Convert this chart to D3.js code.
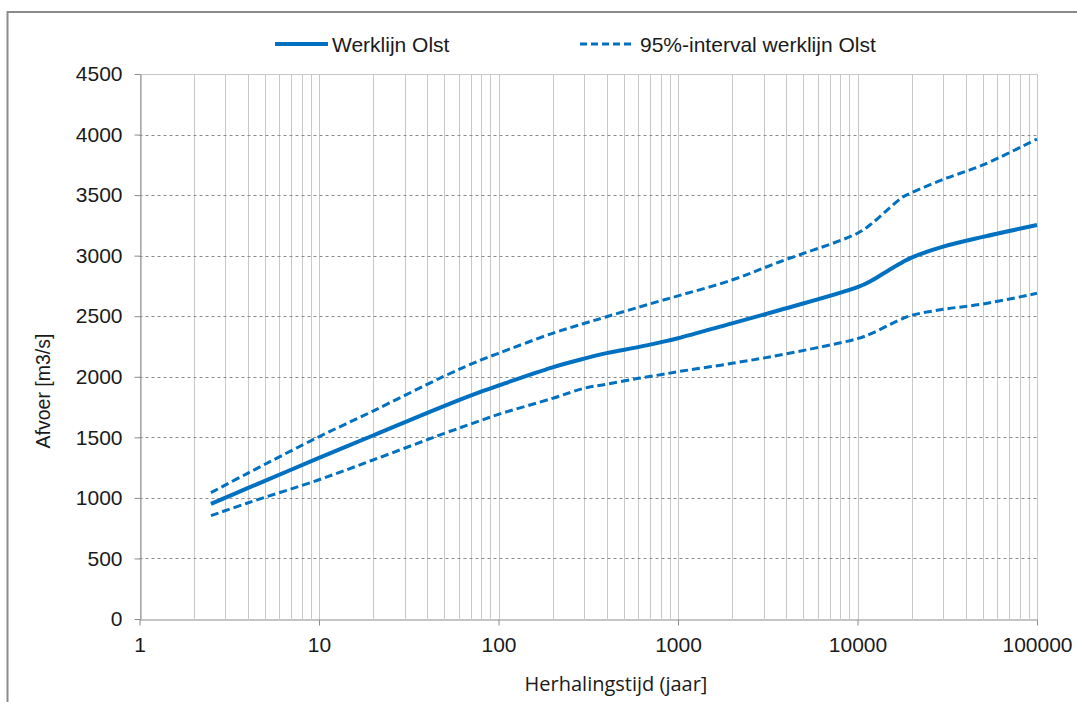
<!DOCTYPE html>
<meta charset="utf-8">
<head>
    <script type="text/javascript" src="https://d3js.org/d3.v7.min.js"></script>
    <style>
        body { margin: 0; background: white; }
        text { font-family: "Liberation Sans", Arial, sans-serif; fill: #1a1a1a; }
    </style>
    <title>Werklijn Olst</title>
</head>
<body>
<div id="chart"></div>
<script>
    // data
    var years = [2.5, 4, 10, 20, 50, 80, 100, 200, 300, 400, 600, 800, 1000, 2000, 3700,
                 10000, 12000, 15000, 18000, 20000, 30000, 50000, 100000];
    var werklijn = [950, 1080, 1330, 1515, 1760, 1877, 1928, 2078, 2150, 2195, 2245, 2285, 2318, 2441, 2551,
                    2740, 2795, 2882, 2950, 2984, 3074, 3155, 3253];
    var upper = [1043, 1203, 1505, 1717, 2006, 2139, 2194, 2359, 2440, 2496, 2573, 2627, 2668, 2799, 2950,
                 3185, 3265, 3391, 3487, 3520, 3630, 3749, 3963];
    var lower = [853, 958, 1150, 1313, 1533, 1640, 1690, 1822, 1905, 1939, 1987, 2017, 2042, 2111, 2180,
                 2315, 2358, 2428, 2483, 2508, 2557, 2601, 2689];
    var xTicks = [1, 10, 100, 1000, 10000, 100000];
    var yTicks = [0, 500, 1000, 1500, 2000, 2500, 3000, 3500, 4000, 4500];

    var w = 1077, h = 702;
    var plotL = 139.5, plotR = 1037, plotT = 74, plotB = 619;
    var blue = "#0070c0";

    var svg = d3.select("#chart").append("svg")
        .attr("width", w).attr("height", h);

    // outer frame
    svg.append("rect")
        .attr("x", 7.5).attr("y", 12)
        .attr("width", 1200).attr("height", 800)
        .attr("fill", "none").attr("stroke", "#8c8c8c").attr("stroke-width", 2);

    var x = d3.scaleLog().domain([1, 100000]).range([plotL, plotR]);
    var y = d3.scaleLinear().domain([0, 4500]).range([plotB, plotT]);

    // vertical grid (every minor step)
    var minor = [];
    for (var e = 0; e < 5; e++) {
        for (var k = 1; k <= 9; k++) minor.push(k * Math.pow(10, e));
    }
    minor.push(100000);
    svg.append("g").selectAll("line").data(minor).enter().append("line")
        .attr("x1", d => Math.round(x(d)) + 0.5).attr("x2", d => Math.round(x(d)) + 0.5)
        .attr("y1", plotT).attr("y2", plotB)
        .attr("stroke", "#c8c8c8").attr("stroke-width", 1);

    // horizontal dashed grid
    svg.append("g").selectAll("line").data(yTicks.slice(1, -1)).enter().append("line")
        .attr("x1", plotL).attr("x2", plotR)
        .attr("y1", d => Math.round(y(d)) + 0.5).attr("y2", d => Math.round(y(d)) + 0.5)
        .attr("stroke", "#8c8c8c").attr("stroke-width", 1)
        .attr("stroke-dasharray", "3,3");
    svg.append("line")
        .attr("x1", plotL).attr("x2", plotR)
        .attr("y1", Math.round(y(4500)) + 0.5).attr("y2", Math.round(y(4500)) + 0.5)
        .attr("stroke", "#c8c8c8");

    // axes
    var xAxis = d3.axisBottom(x).tickValues(xTicks).tickFormat(d3.format("d"))
        .tickSize(6).tickPadding(12).tickSizeOuter(0);
    var gx = svg.append("g").attr("transform", "translate(0," + (Math.round(plotB) + 0.5) + ")")
        .call(xAxis);
    gx.selectAll("text").style("font-size", "21px").attr("fill", "#1a1a1a");

    var yAxis = d3.axisLeft(y).tickValues(yTicks).tickFormat(d3.format("d"))
        .tickSize(6).tickPadding(12).tickSizeOuter(0);
    var gy = svg.append("g").attr("transform", "translate(" + (Math.round(plotL) + 0.5) + ",0)")
        .call(yAxis);
    gy.selectAll("text").style("font-size", "21px").attr("fill", "#1a1a1a");

    svg.selectAll(".domain, .tick line").attr("stroke", "#8c8c8c");

    // series
    function series(vals) {
        return years.map((t, i) => [t, vals[i]]);
    }
    var line = d3.line()
        .x(d => x(d[0])).y(d => y(d[1]))
        .curve(d3.curveCatmullRom.alpha(0.5));

    svg.append("path").datum(series(upper)).attr("d", line)
        .attr("fill", "none").attr("stroke", blue).attr("stroke-width", 3)
        .attr("stroke-dasharray", "8,4");
    svg.append("path").datum(series(lower)).attr("d", line)
        .attr("fill", "none").attr("stroke", blue).attr("stroke-width", 3)
        .attr("stroke-dasharray", "8,4");
    svg.append("path").datum(series(werklijn)).attr("d", line)
        .attr("fill", "none").attr("stroke", blue).attr("stroke-width", 4);

    // legend
    var lg = svg.append("g");
    lg.append("line").attr("x1", 275).attr("x2", 328).attr("y1", 44).attr("y2", 44)
        .attr("stroke", blue).attr("stroke-width", 4);
    lg.append("text").attr("x", 332).attr("y", 52).style("font-size", "21px").text("Werklijn Olst");
    lg.append("line").attr("x1", 580).attr("x2", 634).attr("y1", 44).attr("y2", 44)
        .attr("stroke", blue).attr("stroke-width", 3).attr("stroke-dasharray", "7,4");
    lg.append("text").attr("x", 640).attr("y", 52).style("font-size", "21px").text("95%-interval werklijn Olst");

    // axis titles
    svg.append("text")
        .attr("x", 616).attr("y", 691)
        .attr("text-anchor", "middle").style("font-size", "20px")
        .style("font-family", "'Open Sans', sans-serif")
        .text("Herhalingstijd (jaar]");
    svg.append("text")
        .attr("transform", "translate(50,391) rotate(-90)")
        .attr("text-anchor", "middle").style("font-size", "19.5px")
        .text("Afvoer [m3/s]");
</script>
</body>
</html>
